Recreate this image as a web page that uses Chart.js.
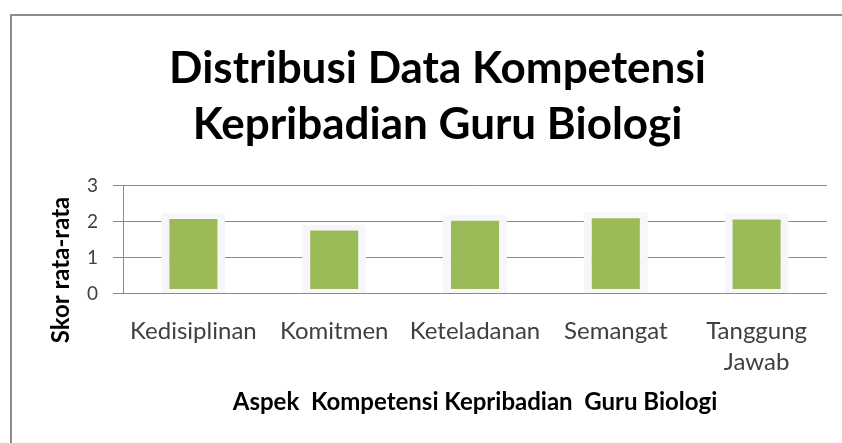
<!DOCTYPE html>
<html>
<head>
<meta charset="utf-8">
<script src="https://cdn.jsdelivr.net/npm/chart.js@4"></script>
<style>
html,body{margin:0;padding:0;background:#fff;overflow:hidden;}
canvas{display:block;}
</style>
</head>
<body>
<canvas id="c" width="842" height="443"></canvas>
<script>
const categories = ["Kedisiplinan", "Komitmen", "Keteladanan", "Semangat", ["Tanggung", "Jawab"]];
const scores = [2.24, 1.92, 2.19, 2.26, 2.23];
const yTicks = [0, 1, 2, 3];
const titleLines = ["Distribusi Data Kompetensi", "Kepribadian Guru Biologi"];
const yTitle = "Skor rata-rata";
const xTitle = "Aspek  Kompetensi Kepribadian  Guru Biologi";

const FONT = "Lato, 'Open Sans', sans-serif";

const decorPlugin = {
  id: 'decorPlugin',
  beforeDraw(chart) {
    const ctx = chart.ctx;
    ctx.save();
    ctx.fillStyle = '#ffffff';
    ctx.fillRect(0, 0, chart.width, chart.height);
    ctx.fillStyle = '#8c8c8c';
    ctx.fillRect(10, 14, chart.width - 10, 2);
    ctx.fillRect(10, 14, 2, chart.height - 14);
    ctx.restore();
  },
  afterDraw(chart) {
    const ctx = chart.ctx;
    ctx.save();
    ctx.translate(61.5, 270);
    ctx.rotate(-Math.PI / 2);
    ctx.font = "bold 24px " + FONT;
    ctx.fillStyle = '#000';
    ctx.textAlign = 'center';
    ctx.textBaseline = 'middle';
    ctx.fillText(yTitle, 0, 0);
    ctx.restore();
  }
};

new Chart(document.getElementById('c'), {
  type: 'bar',
  data: {
    labels: categories,
    datasets: [{
      data: scores,
      backgroundColor: '#9bbb59',
      borderColor: '#f7f7fb',
      borderWidth: {top: 6, bottom: 4, left: 8, right: 8},
      borderSkipped: false,
      categoryPercentage: 1.0,
      barPercentage: 0.455
    }]
  },
  plugins: [decorPlugin],
  options: {
    responsive: false,
    animation: false,
    layout: {padding: {left: 48, right: 15, top: 0, bottom: 26}},
    plugins: {
      legend: {display: false},
      tooltip: {enabled: false},
      title: {
        display: true,
        text: titleLines,
        color: '#000',
        font: {family: FONT, size: 44, weight: 'bold', lineHeight: 1.27},
        padding: {top: 41, bottom: 33}
      }
    },
    scales: {
      x: {
        offset: true,
        afterFit: (s) => { s.height = 123.5; },
        grid: {display: false, drawTicks: false},
        border: {display: false},
        ticks: {
          color: '#404040',
          font: {family: FONT, size: 24, lineHeight: 1.3},
          padding: 22,
          maxRotation: 0,
          autoSkip: false
        },
        title: {
          display: true,
          text: xTitle,
          color: '#000',
          font: {family: FONT, size: 24, weight: 'bold'},
          padding: {top: 0, bottom: 0}
        }
      },
      y: {
        min: 0,
        max: 3,
        afterBuildTicks: (s) => { s.ticks = yTicks.map(v => ({value: v})); },
        afterFit: (s) => { s.width = 75; },
        grid: {color: '#8a8a8a', lineWidth: 1, tickLength: 10, drawTicks: true},
        border: {display: true, color: '#8a8a8a', width: 1},
        ticks: {
          color: '#404040',
          font: {family: FONT, size: 19},
          padding: 15
        },
        title: {display: false}
      }
    }
  }
});
</script>
</body>
</html>
